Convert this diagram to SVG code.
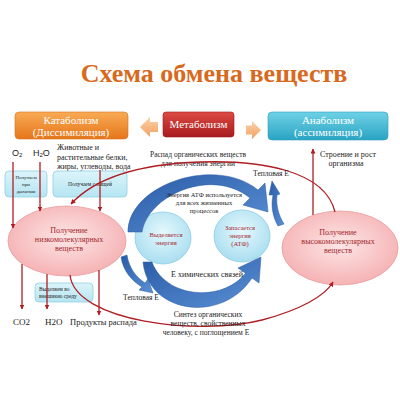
<svg xmlns="http://www.w3.org/2000/svg" width="400" height="400" viewBox="0 0 400 400">
<defs>
<linearGradient id="gKat" x1="0" y1="0" x2="0" y2="1"><stop offset="0" stop-color="#f8ab55"/><stop offset="1" stop-color="#e6761b"/></linearGradient>
<linearGradient id="gMet" x1="0" y1="0" x2="0" y2="1"><stop offset="0" stop-color="#dc4a42"/><stop offset="1" stop-color="#a81b1f"/></linearGradient>
<linearGradient id="gAna" x1="0" y1="0" x2="0" y2="1"><stop offset="0" stop-color="#6fd2e6"/><stop offset="1" stop-color="#2aa3c3"/></linearGradient>
<linearGradient id="gArr" x1="0" y1="0" x2="0" y2="1"><stop offset="0" stop-color="#fbd2ab"/><stop offset="1" stop-color="#f3a060"/></linearGradient>
<radialGradient id="gPink" cx="0.5" cy="0.45" r="0.6"><stop offset="0" stop-color="#fde6e6"/><stop offset="1" stop-color="#f5aeb0"/></radialGradient>
<radialGradient id="gCyan" cx="0.5" cy="0.4" r="0.6"><stop offset="0" stop-color="#e6f8fd"/><stop offset="1" stop-color="#a9def0"/></radialGradient>
<linearGradient id="gBox" x1="0" y1="0" x2="0" y2="1"><stop offset="0" stop-color="#dcf4fa"/><stop offset="1" stop-color="#b5e5f2"/></linearGradient>
<linearGradient id="gBlue" x1="0" y1="0" x2="1" y2="1"><stop offset="0" stop-color="#2a5ca6"/><stop offset="1" stop-color="#5a90d6"/></linearGradient>
<marker id="ar" viewBox="0 0 10 10" refX="9" refY="5" markerWidth="5" markerHeight="5" orient="auto" markerUnits="userSpaceOnUse"><path d="M0,0 L10,5 L0,10 Z" fill="#b01e24"/></marker>
</defs>
<style>
.t{font-family:"Liberation Serif","DejaVu Serif",serif;fill:#222;}
.s{font-family:"Liberation Sans",Arial,sans-serif;fill:#222;}
.w{font-family:"Liberation Serif","DejaVu Serif",serif;fill:#fff;text-anchor:middle;font-size:11px;}
.r{font-family:"Liberation Serif","DejaVu Serif",serif;fill:#a3262b;text-anchor:middle;font-size:8px;}
.c{text-anchor:middle;}
.ln{fill:none;stroke:#b01e24;stroke-width:1.3;}
.bx{fill:url(#gBox);stroke:#8fd0e3;stroke-width:0.8;}
.bl{fill:url(#gBlue);stroke:#2a5aa0;stroke-width:0.5;}
</style>
<rect width="400" height="400" fill="#fff"/>
<text x="214" y="82" class="t c" style="font-size:26px;font-weight:bold;fill:#d8691d">Схема обмена веществ</text>

<g id="katabolizm">
<rect x="15" y="112" width="113" height="27" rx="4" fill="url(#gKat)" stroke="#d9701c" stroke-width="0.6"/>
<text x="71" y="124" class="w">Катаболизм</text>
<text x="71" y="136" class="w">(Диссимиляция)</text>
</g>
<g id="metabolizm">
<rect x="163" y="112" width="71" height="25" rx="3" fill="url(#gMet)" stroke="#9b1a1d" stroke-width="0.6"/>
<text x="198.5" y="128" class="w">Метаболизм</text>
</g>
<g id="anabolizm">
<rect x="268" y="112" width="120" height="28" rx="4" fill="url(#gAna)" stroke="#2a9fbf" stroke-width="0.6"/>
<text x="328" y="124" class="w">Анаболизм</text>
<text x="328" y="136" class="w">(ассимиляция)</text>
</g>
<g id="box-arrows">
<path d="M140,127 L150,117 L150,122 L158,122 L158,132 L150,132 L150,137 Z" fill="url(#gArr)"/>
<path d="M261,130 L252,121 L252,125.5 L246,125.5 L246,134.5 L252,134.5 L252,139 Z" fill="url(#gArr)"/>
</g>

<g id="labels-top">
<text x="12" y="156" class="s" style="font-size:9px">O<tspan style="font-size:6px" dy="1">2</tspan></text>
<text x="33" y="156" class="s" style="font-size:9px">H<tspan style="font-size:6px" dy="1">2</tspan><tspan dy="-1">O</tspan></text>
<text x="57" y="150" class="t" style="font-size:8px">Животные и</text>
<text x="57" y="160" class="t" style="font-size:8px">растительные белки,</text>
<text x="57" y="169" class="t" style="font-size:8px">жиры, углеводы, вода</text>
<text x="198" y="157" class="t c" style="font-size:7.5px">Распад органических веществ</text>
<text x="198" y="166" class="t c" style="font-size:7.5px">для получения энергии</text>
<text x="320" y="157" class="t" style="font-size:8px">Строение и рост</text>
<text x="346" y="166" class="t c" style="font-size:8px">организма</text>
</g>

<g id="box-breath">
<rect x="5" y="171" width="42" height="26" rx="4" class="bx"/>
<text x="26" y="179" class="t c" style="font-size:5px">Получаем</text>
<text x="26" y="186" class="t c" style="font-size:5px">при</text>
<text x="26" y="193" class="t c" style="font-size:5px">дыхании</text>
</g>
<g id="box-food">
<rect x="53" y="171" width="74" height="26" rx="4" class="bx"/>
<text x="90" y="186" class="t c" style="font-size:5.5px">Получаем с пищей</text>
</g>
<g id="box-out">
<rect x="35" y="283" width="58" height="19" rx="4" class="bx"/>
<text x="39" y="291" class="t" style="font-size:5.5px">Выделяем        во</text>
<text x="39" y="298" class="t" style="font-size:5.5px">внешнюю среду</text>
</g>

<g id="low-molecular">
<ellipse cx="67" cy="241" rx="59" ry="35" fill="url(#gPink)" stroke="#e79c9e" stroke-width="0.8"/>
<text x="69" y="233" class="r">Получение</text>
<text x="69" y="242" class="r">низкомолекулярных</text>
<text x="69" y="251" class="r">веществ</text>
</g>
<g id="high-molecular">
<ellipse cx="340" cy="248" rx="58" ry="37" fill="url(#gPink)" stroke="#e79c9e" stroke-width="0.8"/>
<text x="338" y="235" class="r">Получение</text>
<text x="338" y="244" class="r">высокомолекулярных</text>
<text x="338" y="253" class="r">веществ</text>
</g>
<g id="release-energy">
<ellipse cx="163" cy="238" rx="28" ry="26" fill="url(#gCyan)" stroke="#8ccbe2" stroke-width="0.8"/>
<text x="166" y="237" class="r" style="font-size:6.5px">Выделяется</text>
<text x="166" y="245" class="r" style="font-size:6.5px">энергия</text>
</g>
<g id="store-energy">
<ellipse cx="242" cy="236" rx="28" ry="26" fill="url(#gCyan)" stroke="#8ccbe2" stroke-width="0.8"/>
<text x="240" y="230" class="r" style="font-size:6.5px">Запасается</text>
<text x="240" y="238" class="r" style="font-size:6.5px">энергия</text>
<text x="240" y="246" class="r" style="font-size:6.5px">(АТФ)</text>
</g>

<g id="connectors">
<path class="bl" d="M128,232 C128,185 215,155 258,190 L265,183 L268,212 L243,205 L250,198 C212,167 148,195 142,232 Z"/>
<path class="bl" d="M143,262 C148,314 222,324 252,278 L259,283 L261,257 L238,268 L245.5,273.3 C222,303 165,298 152,262 Z"/>
<path class="bl" d="M121,257 L127,255 C129,268 136,277 145,283 L148,279 L153,293 L139,290 L142,287 C132,281 123,271 121,257 Z"/>
<path class="bl" d="M278,226 C272,215 271,205 273,195 L269,195 L272,181 L280,194 L277,195 C276,205 278,214 284,224 Z"/>
<line class="ln" x1="13" y1="162" x2="13" y2="228" marker-end="url(#ar)"/>
<line class="ln" x1="40" y1="162" x2="40" y2="211" marker-end="url(#ar)"/>
<line class="ln" x1="100" y1="170" x2="100" y2="211" marker-end="url(#ar)"/>
<line class="ln" x1="22" y1="264" x2="22" y2="309" marker-end="url(#ar)"/>
<line class="ln" x1="47" y1="274" x2="47" y2="309" marker-end="url(#ar)"/>
<line class="ln" x1="99" y1="270" x2="99" y2="315" marker-end="url(#ar)"/>
<line class="ln" x1="313" y1="215" x2="313" y2="149" marker-end="url(#ar)"/>
<path class="ln" d="M335,212 C325,170 260,160 200,162 C140,164 95,178 71,204" marker-end="url(#ar)"/>
<path class="ln" d="M70,275 C75,322 200,336 262,320 C300,310 325,296 333,282" marker-end="url(#ar)"/>
</g>

<g id="labels-center">
<text x="204" y="197" class="t c" style="font-size:6.5px">Энергия АТФ используется</text>
<text x="204" y="205" class="t c" style="font-size:6.5px">для всех жизненных</text>
<text x="204" y="213" class="t c" style="font-size:6.5px">процессов</text>
<text x="271" y="176" class="t c" style="font-size:7.5px">Тепловая E</text>
<text x="141" y="300" class="t c" style="font-size:7.5px">Тепловая E</text>
<text x="207" y="277" class="t c" style="font-size:8px">E химических связей</text>
<text x="208" y="317" class="t c" style="font-size:7.5px">Синтез органических</text>
<text x="208" y="326" class="t c" style="font-size:7.5px">веществ, свойственных</text>
<text x="206" y="335" class="t c" style="font-size:7.5px">человеку, с поглощением E</text>
</g>
<g id="labels-bottom">
<text x="13" y="325" class="t" style="font-size:9px">CO2</text>
<text x="45" y="325" class="t" style="font-size:9px">H2O</text>
<text x="70" y="325" class="t" style="font-size:8.5px">Продукты распада</text>
</g>
</svg>
